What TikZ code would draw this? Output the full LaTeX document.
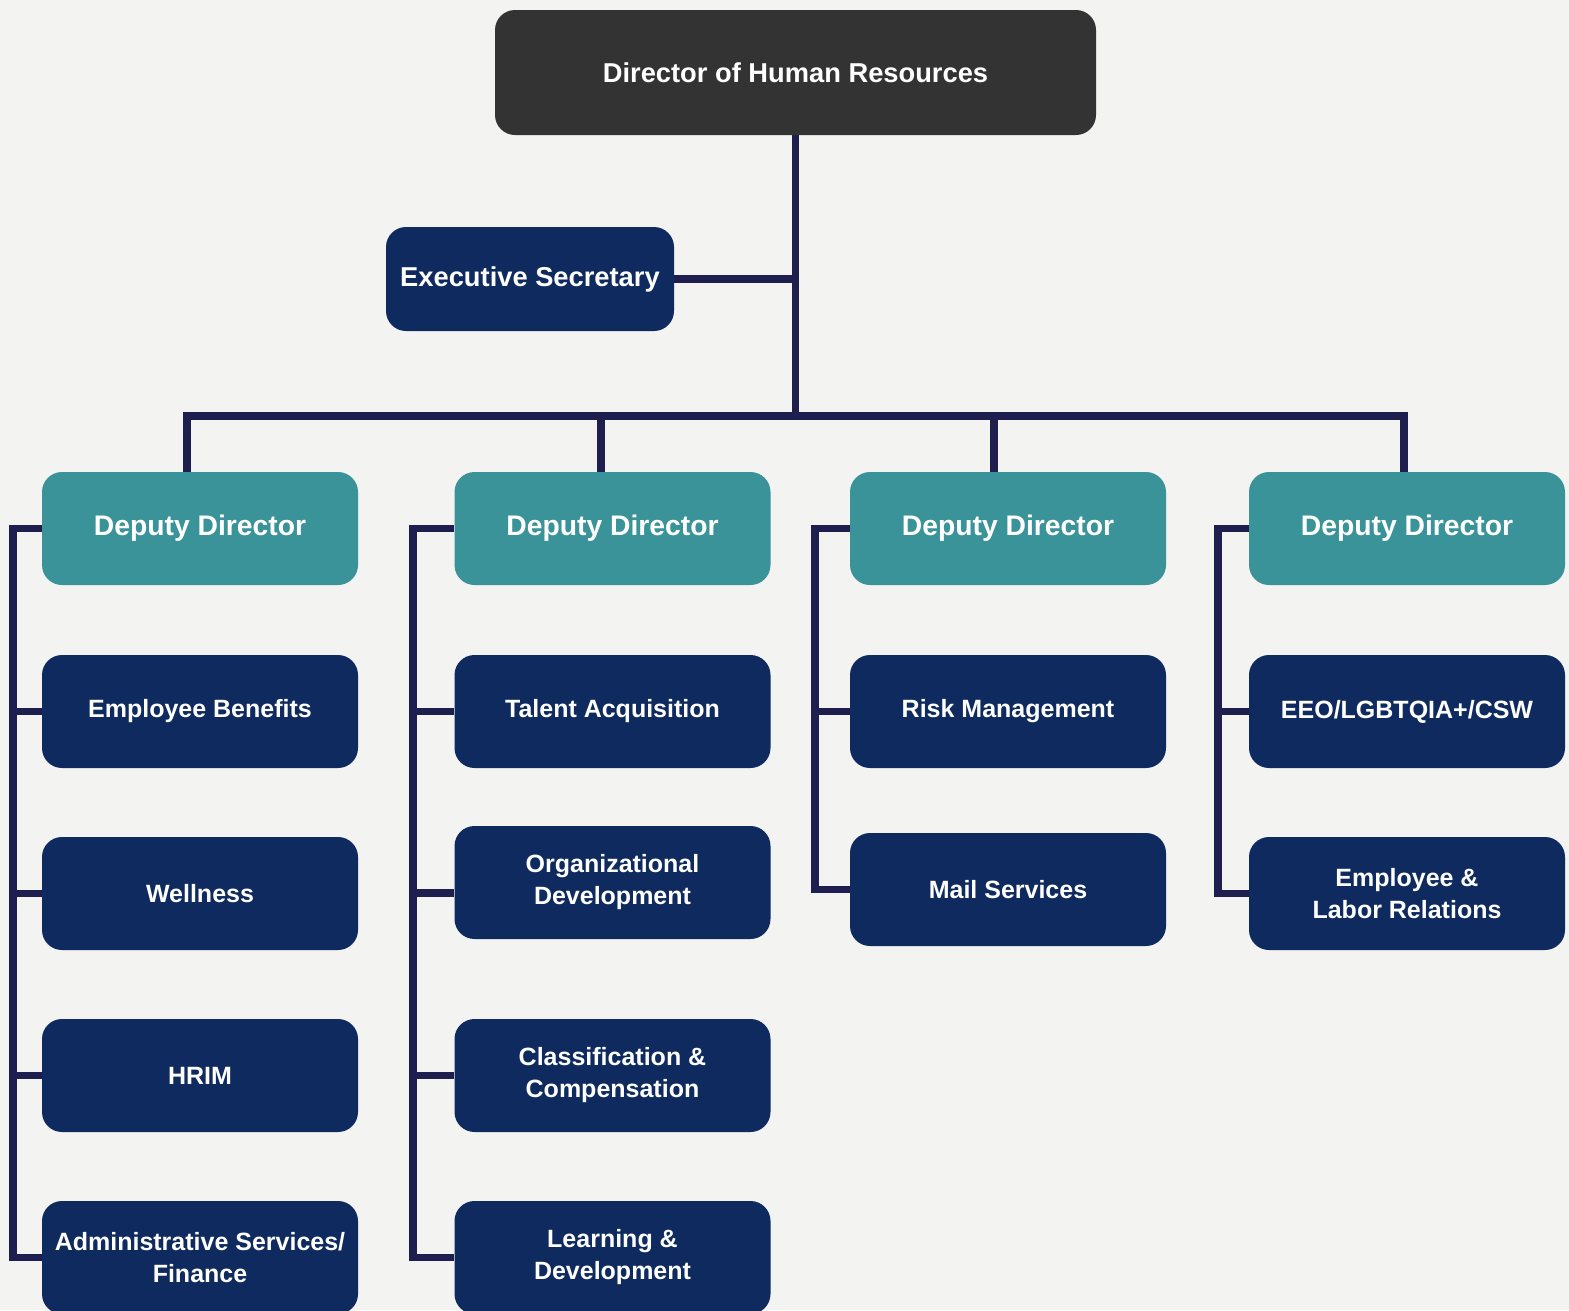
\documentclass[tikz,border=0pt]{standalone}
\usepackage{fontspec}
\setmainfont{Liberation Sans}
\usepackage{tikz}
\usetikzlibrary{positioning,calc}

\definecolor{paper}{HTML}{F3F3F1}
\definecolor{headgray}{HTML}{333333}
\definecolor{deputyteal}{HTML}{3A9399}
\definecolor{unitnavy}{HTML}{0E2A5E}
\definecolor{linknavy}{HTML}{1E1F4E}

\tikzset{
  box/.style={rounded corners=20pt,inner sep=0pt,align=center,text=white,
    font=\bfseries\fontsize{25}{32}\selectfont},
  unit/.style={box,fill=unitnavy,minimum width=316pt,minimum height=113pt},
  deputy/.style={box,fill=deputyteal,minimum width=316pt,minimum height=113pt,
    font=\bfseries\fontsize{28.3}{32}\selectfont},
  link/.style={draw=linknavy,line width=7.5pt,line join=miter}
}

\begin{document}
\begin{tikzpicture}[x=1pt,y=-1pt]
\path[fill=paper,use as bounding box] (0,0) rectangle (1569,1310);
\clip (0,0) rectangle (1569,1310);

% top of the chart
\node[box,fill=headgray,minimum width=601pt,minimum height=125pt,
  font=\bfseries\fontsize{27.3}{32}\selectfont] (dir) at (795.5,72.5) {Director of Human Resources};
\node[box,fill=unitnavy,minimum width=288pt,minimum height=104pt,
  font=\bfseries\fontsize{27.3}{32}\selectfont] (sec) at (530,279) {Executive Secretary};
\foreach \c/\x in {1/200,2/612.5,3/1008,4/1407}
  \node[deputy] (dep\c) at (\x,528.5) {Deputy Director};

% units under each deputy
\foreach \n/\x/\y/\t in {
    11/200/711.5/Employee Benefits,
    12/200/893.5/Wellness,
    13/200/1075.5/HRIM,
    14/200/1257.5/{Administrative Services/\\Finance},
    21/612.5/711.5/Talent Acquisition,
    22/612.5/882.5/{Organizational\\Development},
    23/612.5/1075.5/{Classification \&\\Compensation},
    24/612.5/1257.5/{Learning \&\\Development},
    31/1008/711.5/Risk Management,
    32/1008/889.5/Mail Services,
    41/1407/711.5/{EEO/LGBTQIA+/CSW},
    42/1407/893.5/{Employee \&\\Labor Relations}}
  \node[unit] (u\n) at (\x,\y) {\t};

% connectors
\coordinate (bus) at (796,416);
\draw[link] (dir.south) -- (dir.south |- bus);
\draw[link] (sec.east) -- (sec.east -| dir.south);
\draw[link] ([xshift=-13pt]dep1.north) |- ([xshift=-3pt]dep4.north |- bus) -- ([xshift=-3pt]dep4.north);
\draw[link] ([xshift=-11.5pt]dep2.north) -- ([xshift=-11.5pt]dep2.north |- bus);
\draw[link] ([xshift=-14pt]dep3.north) -- ([xshift=-14pt]dep3.north |- bus);

\foreach \c/\r/\last in {1/13/4,2/413/4,3/815/2,4/1218/2}
  {\coordinate (rail\c) at (\r,0);
   \draw[link] (dep\c.west) -- (rail\c |- dep\c.west) |- (u\c\last.west);}
\foreach \n/\c in {11/1,12/1,13/1,21/2,23/2,31/3,41/4}
  \draw[link] (u\n.west) -- (rail\c |- u\n.west);
\coordinate (stub22) at ([yshift=-10.5pt]u22.west);
\draw[link] (stub22) -- (rail2 |- stub22);
\end{tikzpicture}
\end{document}
